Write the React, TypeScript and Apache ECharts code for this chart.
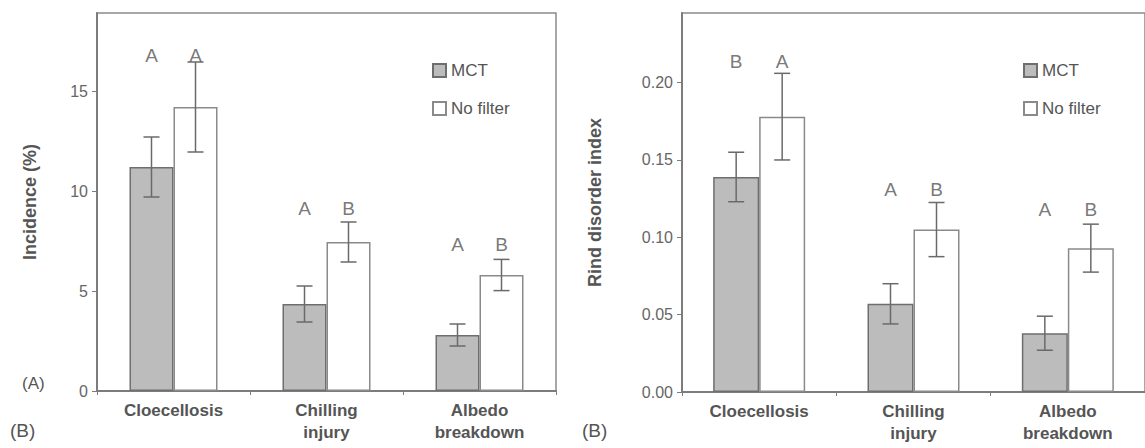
import React, { useEffect, useRef } from "react";
import * as echarts from "echarts";

const categories = ["Cloecellosis", "Chilling\ninjury", "Albedo\nbreakdown"];
const seriesNames = ["MCT", "No filter"];

// Panel A: Incidence (%)
const incidenceMCT = [11.2, 4.35, 2.8];
const incidenceMCTErr = [1.5, 0.9, 0.55];
const incidenceNF = [14.2, 7.45, 5.8];
const incidenceNFErr = [2.25, 1.0, 0.78];
const incidenceLettersMCT = ["A", "A", "A"];
const incidenceLettersNF = ["A", "B", "B"];
const incidenceLetterHeights = [16.8, 9.15, 7.35];
const incidenceTicks = [0, 5, 10, 15];

// Panel B: Rind disorder index
const indexMCT = [0.139, 0.057, 0.038];
const indexMCTErr = [0.016, 0.013, 0.011];
const indexNF = [0.178, 0.105, 0.093];
const indexNFErr = [0.028, 0.0175, 0.0155];
const indexLettersMCT = ["B", "A", "A"];
const indexLettersNF = ["A", "B", "B"];
const indexLetterHeights = [0.2135, 0.1307, 0.1177];
const indexTicks = [0, 0.05, 0.1, 0.15, 0.2];

const FONT = "'Liberation Sans', Arial, sans-serif";
const TEXT = "#555";
const AXIS = "#7c7c7c";

function errorSeries(ai: number, vals: number[], errs: number[], dx: number) {
  return {
    type: "custom",
    xAxisIndex: ai,
    yAxisIndex: ai,
    z: 6,
    silent: true,
    data: vals.map((v, i) => [i, v, errs[i]]),
    encode: { x: 0, y: 1 },
    renderItem: (params: any, api: any) => {
      const i = api.value(0);
      const v = api.value(1);
      const e = api.value(2);
      const top = api.coord([i, v + e]);
      const bot = api.coord([i, v - e]);
      const x = top[0] + dx;
      const cap = 8;
      const st = { stroke: "#6a6a6a", lineWidth: 1.5 };
      return {
        type: "group",
        children: [
          { type: "line", shape: { x1: x, y1: top[1], x2: x, y2: bot[1] }, style: st },
          { type: "line", shape: { x1: x - cap, y1: top[1], x2: x + cap, y2: top[1] }, style: st },
          { type: "line", shape: { x1: x - cap, y1: bot[1], x2: x + cap, y2: bot[1] }, style: st },
        ],
      };
    },
  };
}

function letterSeries(ai: number, heights: number[], letters: string[], dx: number) {
  return {
    type: "scatter",
    xAxisIndex: ai,
    yAxisIndex: ai,
    symbolSize: 1,
    silent: true,
    itemStyle: { color: "rgba(0,0,0,0)" },
    data: heights.map((h, i) => [i, h]),
    label: {
      show: true,
      position: "inside",
      offset: [dx, 0],
      formatter: (p: any) => letters[p.dataIndex],
      fontFamily: FONT,
      fontSize: 19,
      color: TEXT,
    },
  };
}

function barSeries(ai: number, name: string, vals: number[], fill: string, border: string, bw: number) {
  return {
    type: "bar",
    name,
    xAxisIndex: ai,
    yAxisIndex: ai,
    barWidth: bw,
    barGap: "0%",
    data: vals,
    itemStyle: { color: fill, borderColor: border, borderWidth: 1.5 },
  };
}

function xAxisDef(gi: number) {
  return {
    type: "category",
    gridIndex: gi,
    data: categories,
    axisLine: { lineStyle: { color: AXIS, width: 2 } },
    axisTick: { show: true, length: 4, lineStyle: { color: AXIS } },
    axisLabel: {
      fontFamily: FONT,
      fontWeight: "bold",
      fontSize: 17,
      color: TEXT,
      lineHeight: 22,
      margin: 8,
      interval: 0,
    },
  };
}

function yAxisDef(gi: number, max: number, interval: number, name: string, nameGap: number, ticks: number[], digits: number) {
  return {
    type: "value",
    gridIndex: gi,
    min: 0,
    max,
    interval,
    name,
    nameLocation: "middle",
    nameGap,
    nameTextStyle: { fontFamily: FONT, fontWeight: "bold", fontSize: 18, color: TEXT },
    axisLine: { show: true, lineStyle: { color: AXIS, width: 2 } },
    axisTick: { show: true, length: 5, lineStyle: { color: AXIS } },
    splitLine: { show: false },
    axisLabel: {
      showMaxLabel: false,
      fontFamily: FONT,
      fontSize: 16,
      color: "#666",
      margin: 9,
      formatter: (v: number) => {
        const t = ticks.find((k) => Math.abs(k - v) < 1e-9);
        return t === undefined ? "" : t.toFixed(digits);
      },
    },
  };
}

function legendDef(left: number, top: number) {
  return {
    left,
    top,
    orient: "vertical",
    itemWidth: 13,
    itemHeight: 13,
    itemGap: 21,
    selectedMode: false,
    data: [
      { name: seriesNames[0], icon: "rect" },
      { name: seriesNames[1], icon: "rect" },
    ],
    textStyle: { fontFamily: FONT, fontSize: 17, color: TEXT },
  };
}

export default function App() {
  const ref = useRef<HTMLDivElement>(null);
  useEffect(() => {
    if (!ref.current) return;
    const chart = echarts.init(ref.current, null, { renderer: "svg" });
    const gridStyle = { show: true, borderColor: "#8a8a8a", borderWidth: 1.5, backgroundColor: "transparent" };
    chart.setOption({
      animation: false,
      backgroundColor: "#fff",
      grid: [
        { left: 97, top: 13, width: 459, height: 378, ...gridStyle },
        { left: 682, top: 13, width: 465, height: 379, ...gridStyle },
      ],
      legend: [legendDef(427, 57), legendDef(1018, 57)],
      xAxis: [xAxisDef(0), xAxisDef(1)],
      yAxis: [
        yAxisDef(0, 18.9, 5, "Incidence (%)", 58, incidenceTicks, 0),
        yAxisDef(1, 0.245, 0.05, "Rind disorder index", 78, indexTicks, 2),
      ],
      graphic: [
        { type: "text", left: 22, top: 375, style: { text: "(A)", fontFamily: FONT, fontSize: 17, fill: TEXT } },
        { type: "text", left: 10, top: 421, style: { text: "(B)", fontFamily: FONT, fontSize: 19, fill: TEXT } },
        { type: "text", left: 582, top: 421, style: { text: "(B)", fontFamily: FONT, fontSize: 19, fill: TEXT } },
      ],
      series: [
        barSeries(0, seriesNames[0], incidenceMCT, "#bcbcbc", "#6e6e6e", 44),
        barSeries(0, seriesNames[1], incidenceNF, "#ffffff", "#8a8a8a", 44),
        errorSeries(0, incidenceMCT, incidenceMCTErr, -22),
        errorSeries(0, incidenceNF, incidenceNFErr, 22),
        letterSeries(0, incidenceLetterHeights, incidenceLettersMCT, -22),
        letterSeries(0, incidenceLetterHeights, incidenceLettersNF, 22),
        barSeries(1, seriesNames[0], indexMCT, "#bcbcbc", "#6e6e6e", 46),
        barSeries(1, seriesNames[1], indexNF, "#ffffff", "#8a8a8a", 46),
        errorSeries(1, indexMCT, indexMCTErr, -23),
        errorSeries(1, indexNF, indexNFErr, 23),
        letterSeries(1, indexLetterHeights, indexLettersMCT, -23),
        letterSeries(1, indexLetterHeights, indexLettersNF, 23),
      ],
    });
    return () => chart.dispose();
  }, []);
  return (
    <div
      ref={ref}
      style={{ position: "fixed", left: 0, top: 0, width: 1145, height: 448, background: "#fff" }}
    />
  );
}
